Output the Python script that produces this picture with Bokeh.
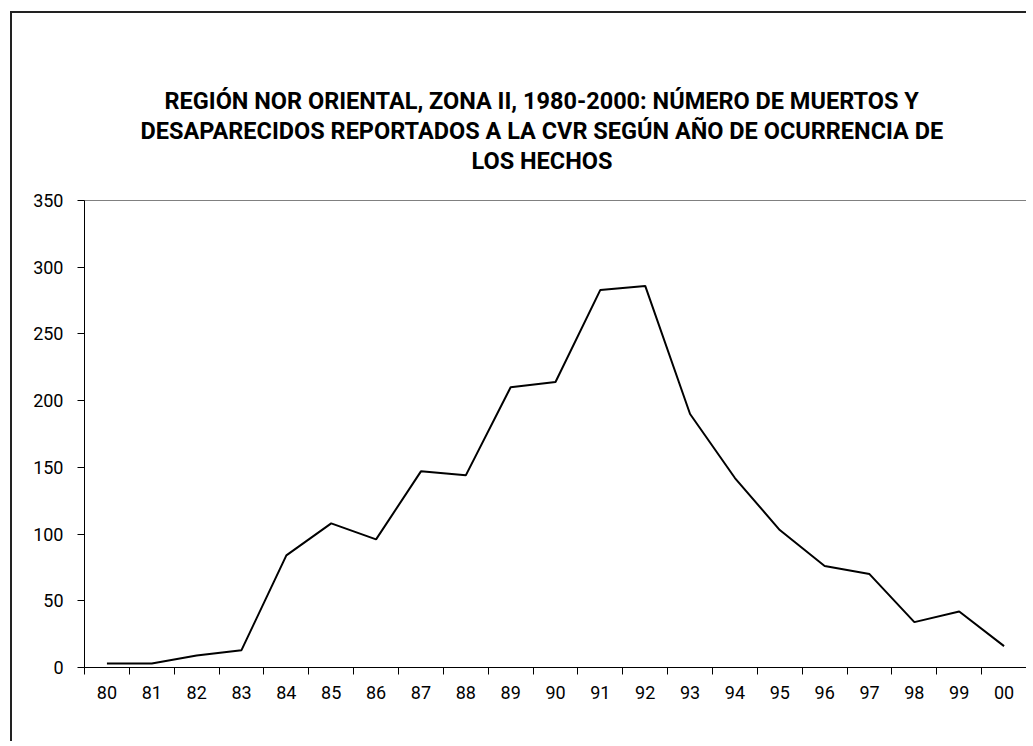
import numpy as np
from bokeh.plotting import figure
from bokeh.models import Range1d, FixedTicker, Title
from bokeh.embed import file_html
from bokeh.resources import INLINE

# ---- data ----
years = ["80", "81", "82", "83", "84", "85", "86", "87", "88", "89", "90",
         "91", "92", "93", "94", "95", "96", "97", "98", "99", "00"]
deaths = [3, 3, 9, 13, 84, 108, 96, 147, 144, 210, 214,
          283, 286, 190, 142, 103, 76, 70, 34, 42, 16]
y_ticks = [0, 50, 100, 150, 200, 250, 300, 350]
title_lines = [
    "REGIÓN NOR ORIENTAL, ZONA II, 1980-2000: NÚMERO DE MUERTOS Y",
    "DESAPARECIDOS REPORTADOS A LA CVR SEGÚN AÑO DE OCURRENCIA DE",
    "LOS HECHOS",
]
# horizontal start (px from frame left) of each title line
title_offsets = [80, 56, 387]

FONT = "Roboto"

x_pos = [i + 0.5 for i in range(len(years))]
boundaries = list(range(len(years) + 1))

p = figure(width=1016, height=730, output_backend="svg", toolbar_location=None,
           x_range=Range1d(0, len(years)), y_range=Range1d(0, 350),
           min_border_left=72, min_border_top=187, min_border_right=2,
           min_border_bottom=76)
p.margin = (11, 0, 0, 10)
p.styles = {"border-top": "2px solid #222222", "border-left": "2px solid #222222"}
p.title.visible = False
p.background_fill_color = "white"
p.border_fill_color = "white"
p.outline_line_color = "#808080"
p.outline_line_width = 1
p.grid.visible = False

p.line(x_pos, deaths, line_color="black", line_width=2)

# x axis: category labels centred, tick marks at category boundaries
xa = p.xaxis[0]
xa.ticker = FixedTicker(ticks=x_pos, minor_ticks=boundaries)
xa.major_label_overrides = {float(xv): lab for xv, lab in zip(x_pos, years)}
xa.major_tick_line_color = None
xa.major_tick_out = 0
xa.major_tick_in = 0
xa.minor_tick_line_color = "black"
xa.minor_tick_out = 7
xa.minor_tick_in = 0
xa.major_label_standoff = 11
xa.axis_line_color = "black"
xa.major_label_text_font = FONT
xa.major_label_text_font_size = "18px"
xa.major_label_text_color = "black"

ya = p.yaxis[0]
ya.ticker = FixedTicker(ticks=y_ticks)
ya.minor_tick_line_color = None
ya.major_tick_out = 7
ya.major_tick_in = 0
ya.major_tick_line_color = "black"
ya.axis_line_color = "black"
ya.major_label_standoff = 14
ya.major_label_text_font = FONT
ya.major_label_text_font_size = "18px"
ya.major_label_text_color = "black"

# spacer between the title block and the plot frame
p.add_layout(Title(text=" ", text_font=FONT, text_font_size="21px", standoff=0), "above")

# title: three lines stacked above the frame (added bottom line first)
for i, line in reversed(list(enumerate(title_lines))):
    p.add_layout(Title(text=line, align="left", offset=title_offsets[i],
                       text_font=FONT, text_font_size="23.5px",
                       text_font_style="bold", text_color="black", standoff=0),
                 "above")

open("out.html", "w").write(file_html(p, INLINE))
